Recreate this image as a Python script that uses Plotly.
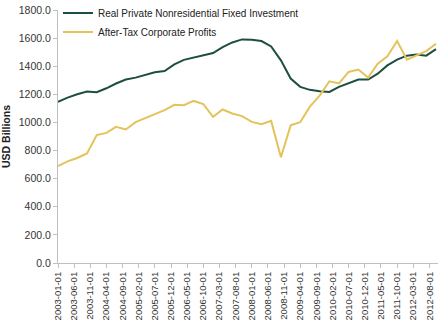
import plotly.graph_objects as go
import pandas as pd

dates = pd.date_range("2003-01-01", periods=40, freq="QS").strftime("%Y-%m-%d").tolist()

investment = [1146, 1177, 1201, 1220, 1215, 1243, 1277, 1305, 1319, 1338, 1357, 1366, 1413,
              1445, 1461, 1475, 1494, 1536, 1569, 1591, 1589, 1579, 1541, 1442, 1312, 1253,
              1232, 1222, 1217, 1253, 1277, 1305, 1305, 1347, 1406, 1447, 1475, 1484, 1475, 1522]

profits = [690, 723, 747, 780, 910, 926, 969, 950, 1002, 1030, 1054, 1087, 1125,
           1123, 1153, 1130, 1040, 1092, 1064, 1045, 1004, 988, 1011, 752, 979, 1002,
           1112, 1191, 1293, 1277, 1359, 1376, 1319, 1418, 1470, 1579, 1447, 1479, 1508, 1560]

tick_dates = pd.date_range("2003-01-01", "2012-08-01", freq="5MS").strftime("%Y-%m-%d").tolist()
y_ticks = [0, 200, 400, 600, 800, 1000, 1200, 1400, 1600, 1800]

fig = go.Figure()
fig.add_trace(go.Scatter(x=dates, y=investment, mode="lines",
                         name="Real Private Nonresidential Fixed Investment",
                         line=dict(color="#1d4f3f", width=2)))
fig.add_trace(go.Scatter(x=dates, y=profits, mode="lines",
                         name="After-Tax Corporate Profits",
                         line=dict(color="#e3c35a", width=2)))

font = "Liberation Sans, Arial, sans-serif"
fig.update_layout(
    width=448, height=327,
    margin=dict(l=58, r=10, t=10, b=64, autoexpand=False),
    paper_bgcolor="white", plot_bgcolor="white",
    font=dict(family=font, size=10, color="#222"),
    legend=dict(x=0.0, y=1.045, xanchor="left", yanchor="top",
                bgcolor="rgba(0,0,0,0)", font=dict(size=10, color="#222"),
                tracegroupgap=0, itemwidth=30),
    showlegend=True,
)
fig.update_xaxes(type="date", range=["2003-01-01", "2012-10-20"],
                 tickvals=tick_dates, ticktext=tick_dates, tickangle=-90,
                 tickfont=dict(size=9.5, color="#333"),
                 showgrid=False, zeroline=False, showline=True, linecolor="#c0c0c0",
                 ticks="outside", ticklen=4, tickcolor="#c0c0c0")
fig.update_yaxes(range=[0, 1800], tickvals=y_ticks, tickformat=".1f",
                 tickfont=dict(size=10.5, color="#333"),
                 title=dict(text="<b>USD Billions</b>", font=dict(size=10.5, color="#222"), standoff=6),
                 showgrid=False, zeroline=False, showline=True, linecolor="#c0c0c0",
                 ticks="outside", ticklen=4, tickcolor="#c0c0c0")

fig.write_html("out.html")
